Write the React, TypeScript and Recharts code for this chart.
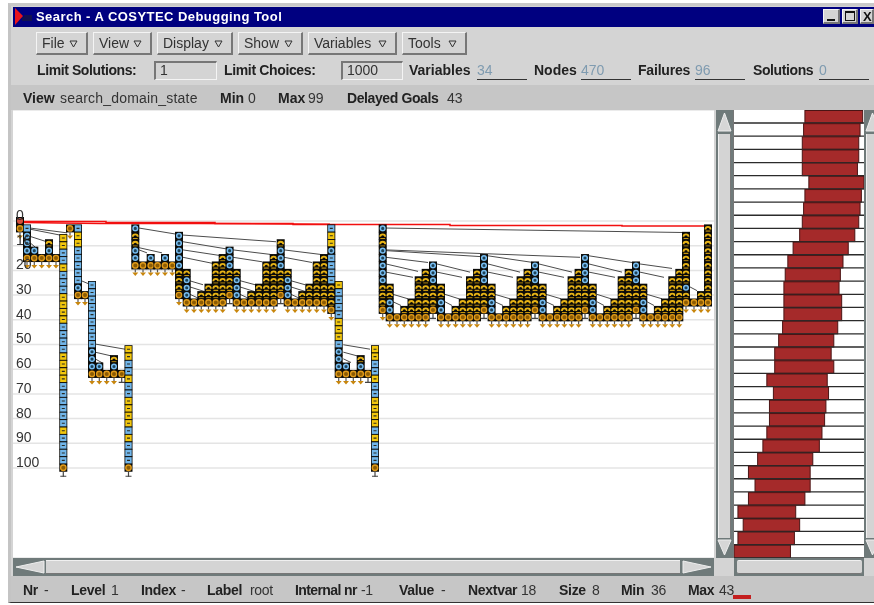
import React from "react";
import { ScatterChart, Scatter, XAxis, YAxis, CartesianGrid, BarChart, Bar } from "recharts";

// ---------- data ----------
const levelTicks = [0, 10, 20, 30, 40, 50, 60, 70, 80, 90, 100];
const LEVELS_PER_DEPTH = 3;

const menuItems: [string, number, number][] = [
  ["File", 36, 52], ["View", 93, 59], ["Display", 157, 76], ["Show", 238, 65], ["Variables", 308, 89], ["Tools", 402, 65],
];
const countersRow: [string, number, string, number, number][] = [
  ["Variables", 409, "34", 477, 0], ["Nodes", 534, "470", 581, 0], ["Failures", 638, "96", 695, -0.2], ["Solutions", 753, "0", 819, -0.4],
];
const viewRow: [string, number, string, number, number][] = [
  ["View", 23, "search_domain_state", 60, 0.2], ["Min", 220, "0", 248, 0], ["Max", 278, "99", 308, 0], ["Delayed Goals", 347, "43", 447, 0],
];
const statusRow: [string, number, string, number][] = [
  ["Nr", 23, "-", 44], ["Level", 71, "1", 111], ["Index", 141, "-", 181], ["Label", 207, "root", 250],
  ["Internal nr", 295, "-1", 361], ["Value", 399, "-", 441], ["Nextvar", 468, "18", 521], ["Size", 559, "8", 592],
  ["Min", 621, "36", 651], ["Max", 688, "43", 719],
];

// variable domain histogram: lowest and highest value of each of the 34 variables
const domainMin = [54, 53, 52, 52, 52, 57, 54, 53, 52, 50, 45, 41, 39, 38, 38, 38, 37, 34, 31, 31, 25, 30, 27, 27, 25, 22, 18, 11, 16, 11, 3, 7, 3, 0];
const domainMax = [98, 96, 95, 95, 94, 99, 97, 96, 95, 92, 87, 83, 81, 80, 82, 82, 79, 76, 74, 76, 71, 72, 70, 69, 67, 65, 60, 58, 58, 54, 47, 50, 46, 43];

// search tree: [x position, depth of first node, node kinds, tail]
type Col = [number, number, string, string];
const tree1: Col[] = [
  [20, 0, "ro", "v"], [27, 1, "bccco", "v"], [34.3, 4, "co", "v"], [41.7, 5, "o", "v"], [49, 3, "aco", "v"], [56, 5, "o", "v"],
  [63.3, 2.3, "yybbybbbyyyybbbbyyyybbbbbbybbbbo", "t"],
  [70, 1, "o", "v"], [78, 1, "byybbbbbco", "v"], [85, 10, "o", "v"],
  [92, 8.64, "bbbbbbbbbccco", "v"], [99.3, 19.64, "co", "v"], [106.7, 20.64, "o", "v"], [114, 18.64, "aco", "v"], [121.7, 20.64, "o", "t"],
  [128.5, 17.3, "yybbybbyyyybybbbo", "t"],
];
const tree2: Col[] = [
  [135.3, 1, "caacco", "v"], [143, 6, "o", "v"], [150.7, 5, "co", "v"], [157.5, 6, "o", "v"], [165, 5, "co", "v"], [172.3, 6, "o", "v"],
  [179, 2, "cccccaaao", "v"],
  [186.7, 7, "accco", "v"], [194, 11, "o", "v"], [201.3, 10, "ao", "v"], [208.5, 9, "aao", "v"], [215.8, 6, "aaaaao", "v"], [222.7, 5, "aaaaaao", "v"], [229.6, 4, "cccaaao", "t"],
  [236.7, 7, "accco", "v"], [244, 11, "o", "v"], [251.3, 10, "ao", "v"], [259, 9, "aao", "v"], [266.3, 6, "aaaaao", "v"], [273.7, 5, "aaaaaao", "v"], [280.7, 3, "acccaaao", "t"],
  [287.7, 7, "accco", "v"], [295, 11, "o", "v"], [302.3, 10, "ao", "v"], [309.3, 9, "aao", "v"], [316.7, 6, "aaaaao", "v"], [324, 5, "aaaaaao", "v"],
  [331.3, 1, "byycbbbbaaao", "v"],
  [338.7, 8.64, "ybbbbyyybccco", "v"], [346, 19.64, "co", "v"], [353.3, 20.64, "o", "v"], [360.7, 18.64, "aco", "v"], [368, 20.64, "o", "t"],
  [375, 17.3, "yybbybbyyyybybbbo", "t"],
];
const tree3: Col[] = [
  [382.7, 1, "caacccccaaao", "v"],
  [389.7, 9, "aacco", "v"], [397, 13, "o", "v"], [404.3, 12, "ao", "v"], [411.5, 11, "aao", "v"], [418.7, 8, "aaaaao", "v"], [425.7, 7, "aaaaaao", "v"], [433, 6, "cccaaao", "t"],
  [441, 9, "aacco", "v"], [448.3, 13, "o", "v"], [455.6, 12, "ao", "v"], [462.8, 11, "aao", "v"], [470, 8, "aaaaao", "v"], [477, 7, "aaaaaao", "v"], [484, 5, "ccccaaao", "t"],
  [491.6, 9, "aacco", "v"], [498.9, 13, "o", "v"], [506.2, 12, "ao", "v"], [513.4, 11, "aao", "v"], [520.6, 8, "aaaaao", "v"], [527.6, 7, "aaaaaao", "v"], [535, 6, "cccaaao", "t"],
  [542.6, 9, "aacco", "v"], [549.9, 13, "o", "v"], [557.2, 12, "ao", "v"], [564.4, 11, "aao", "v"], [571.6, 8, "aaaaao", "v"], [578.6, 7, "aaaaaao", "v"], [585, 5, "ccccaaao", "t"],
  [592.7, 9, "aacco", "v"], [600, 13, "o", "v"], [607.3, 12, "ao", "v"], [614.5, 11, "aao", "v"], [621.7, 8, "aaaaao", "v"], [628.7, 7, "aaaaaao", "v"], [636, 6, "cccaaao", "t"],
  [643.3, 9, "aacco", "v"], [650.6, 13, "o", "v"], [657.9, 12, "ao", "v"], [665.1, 11, "aao", "v"], [672.3, 8, "aaaaao", "v"], [679.3, 7, "aaaaaao", "v"],
  [686, 2, "aaaaaaacao", "v"], [694, 11, "o", "v"], [701, 10, "ao", "v"], [708, 1, "aaaaaaaaaao", "v"],
];

// tree edges: [x1, depth1, x2, depth2]
const treeEdges: [number, number, number, number][] = [
  [30, 0.95, 67, 1.6], [30, 1.1, 60, 1.9], [30.6, 2.1, 46.7, 2.8], [30.6, 3, 35, 3.5], [82, 8.1, 89, 8.5],
  [95, 16.6, 125, 17.3], [95, 17.7, 111, 18.2], [95, 18.6, 103, 19.2],
  [139, 0.95, 175, 1.75], [139, 3.6, 162, 4.3], [139, 3.9, 147, 4.3],
  [183, 1.9, 276, 2.8], [183, 2.8, 228, 3.8], [183, 3.9, 222, 4.7], [183, 4.9, 212, 5.7], [183, 7.8, 203, 8.6], [190, 8.9, 204, 9.5], [190, 9.9, 198, 10.4],
  [233, 3.9, 270, 4.5], [233, 4.9, 262, 5.5], [233, 7.8, 255, 8.6], [240, 8.9, 254, 9.5], [240, 9.9, 248, 10.4],
  [284, 3.9, 320, 4.5], [284, 4.9, 312, 5.6], [284, 7.8, 305, 8.6], [291, 8.9, 305, 9.5], [291, 9.9, 299, 10.4],
  [343.3, 16.7, 370, 17.3], [343.3, 17.7, 357, 18.2], [343.3, 18.6, 351, 19.1],
  [386, 0.95, 682, 1.55], [386, 3.9, 580, 4.9], [386, 4, 480, 4.8], [386, 4.9, 428, 5.6], [386, 5.8, 418, 6.8], [386, 6.9, 413, 7.6],
  [437, 5.8, 470, 6.9], [437, 6.9, 462, 7.6], [488, 4.7, 533, 5.6], [488, 5.8, 520, 6.9], [488, 6.9, 513, 7.6],
  [539, 5.8, 572, 6.9], [539, 6.9, 564, 7.6], [589, 4.7, 632, 5.6], [589, 5.8, 622, 6.9], [589, 6.9, 615, 7.6],
  [640, 5.8, 672, 6.4], [640, 6.9, 664, 7.6], [690, 8.9, 697, 9.4],
  [393, 9.9, 408, 10.5], [393, 10.9, 401, 11.4], [445, 9.9, 459, 10.5], [445, 10.9, 452, 11.4], [495, 9.9, 510, 10.5], [495, 10.9, 503, 11.4],
  [546, 9.9, 561, 10.5], [546, 10.9, 554, 11.4], [597, 9.9, 611, 10.5], [597, 10.9, 604, 11.4], [647, 9.9, 662, 10.5], [647, 10.9, 654, 11.4],
];

// first-solution cost trail: [x, level] corners of two red traces
const redTraceUpper: [number, number][] = [[24, 0.2], [106, 0.2], [106, 0.6], [215, 0.6], [215, 1], [293, 1], [293, 1.4], [450, 1.4], [450, 1.8], [622, 1.8], [622, 2], [712, 2]];
const redTraceLower: [number, number][] = [[24, 0.6], [60, 0.8], [100, 1], [200, 1], [330, 1.3]];

// ---------- derived tables ----------
const allColumns = [...tree1, ...tree2, ...tree3];
const nodes = allColumns.flatMap(([x, d0, kinds]) =>
  kinds.split("").map((kind, i) => ({ x, y: (d0 + i) * LEVELS_PER_DEPTH, kind }))
);
const tails = allColumns.map(([x, d0, kinds, tail]) => ({ x, y: (d0 + kinds.length - 1) * LEVELS_PER_DEPTH, tail }));
const edgeSeries = treeEdges.map(([x1, d1, x2, d2]) => [
  { x: x1, y: d1 * LEVELS_PER_DEPTH },
  { x: x2, y: d2 * LEVELS_PER_DEPTH },
]);
const toPoints = (t: [number, number][]) => t.map(([x, y]) => ({ x, y }));
const domainRows = domainMin.map((lo, i) => ({ row: i + 1, range: [lo, domainMax[i]] }));

// ---------- marks ----------
const NodeCell = (p: any) => {
  const { cx, cy, payload } = p;
  const k = payload.kind;
  const s = 4;
  let inner: React.ReactNode = null;
  if (k === "a")
    inner = (
      <g fill="none" stroke="#e8b416" strokeWidth={1.8}>
        <path d={`M${cx - 2.5},${cy + 1} A2.5,2.5 0 0 1 ${cx + 2.5},${cy + 1}`} />
        <path d={`M${cx - 2.4},${cy + 2.7} H${cx + 2.4}`} strokeWidth={1.1} stroke="#c8960e" />
      </g>
    );
  else if (k === "c") inner = <circle cx={cx} cy={cy} r={2.3} fill="#1e4256" stroke="#76bcf0" strokeWidth={1.5} />;
  else if (k === "o") inner = <circle cx={cx} cy={cy} r={2.7} fill="#8c5c04" stroke="#e09a18" strokeWidth={1.4} />;
  else if (k === "r") inner = <circle cx={cx} cy={cy} r={3} fill="#d4503c" />;
  else if (k === "b" || k === "y")
    inner = (
      <g>
        <rect x={cx - 3.2} y={cy - 3.2} width={6.4} height={6.4} fill={k === "b" ? "#72b6ea" : "#f2c70e"} />
        <path d={`M${cx - 1.5},${cy} H${cx + 1.5}`} stroke="#2a2a20" strokeWidth={1.1} />
      </g>
    );
  return (
    <g>
      <rect x={cx - s} y={cy - s} width={2 * s} height={2 * s} fill="#0b0b08" />
      {inner}
    </g>
  );
};

const TailMark = (p: any) => {
  const { cx, cy, payload } = p;
  if (payload.tail === "t")
    return (
      <g stroke="#444" strokeWidth={1.2}>
        <path d={`M${cx},${cy + 4} V${cy + 9}`} />
        <path d={`M${cx - 3},${cy + 8.5} H${cx + 3}`} />
      </g>
    );
  return (
    <g>
      <path d={`M${cx},${cy + 4} V${cy + 7}`} stroke="#555" strokeWidth={1.2} />
      <path d={`M${cx - 3},${cy + 7} H${cx + 3} L${cx},${cy + 10.5} Z`} fill="#c8860c" />
    </g>
  );
};

const NoMark = () => <g />;

const LevelTick = (p: any) => (
  <text x={3} y={p.y - 1} fontSize={14} fill="#333" fontFamily="Liberation Sans">
    {p.payload.value}
  </text>
);

const DomainBar = (p: any) => {
  const { x, y, width, height, background } = p;
  const bx = background?.x ?? 0;
  const bw = background?.width ?? 130;
  return (
    <g>
      <rect x={x} y={y + 0.5} width={width} height={height - 0.5} fill="#a52a2a" stroke="#4a1414" strokeWidth={1} />
      <line x1={bx} x2={bx + bw} y1={y + height} y2={y + height} stroke="#2b2b2b" strokeWidth={1.3} />
    </g>
  );
};

// ---------- chrome ----------
const FONT = "Liberation Sans, Arial, sans-serif";
const Txt = ({ x, y, bold, color, size, children, ls }: any) => (
  <div
    style={{
      position: "absolute", left: x, top: y - 9, height: 18, lineHeight: "18px", whiteSpace: "nowrap",
      fontFamily: FONT, fontSize: size ?? 14, fontWeight: bold ? 700 : 400, color: color ?? "#222", letterSpacing: ls ?? 0,
    }}
  >
    {children}
  </div>
);
const Box = ({ x, y, w, h, bg, style }: any) => (
  <div style={{ position: "absolute", left: x, top: y, width: w, height: h, background: bg, boxSizing: "border-box", ...style }} />
);
const raised = { borderTop: "1px solid #f4f4f4", borderLeft: "1px solid #f4f4f4", borderRight: "2px solid #777", borderBottom: "2px solid #777" };
const sunken = { borderTop: "2px solid #777", borderLeft: "2px solid #777", borderRight: "1px solid #f4f4f4", borderBottom: "1px solid #f4f4f4" };

const Arrow = ({ x, y, w, h, dir }: any) => {
  const pts =
    dir === "up" ? `${w / 2},2 ${w - 1},${h - 2} 1,${h - 2}`
    : dir === "down" ? `1,2 ${w - 1},2 ${w / 2},${h - 2}`
    : dir === "left" ? `2,${h / 2} ${w - 1},1 ${w - 1},${h - 1}`
    : `1,1 ${w - 2},${h / 2} 1,${h - 1}`;
  return (
    <svg style={{ position: "absolute", left: x, top: y }} width={w} height={h}>
      <polygon points={pts} fill="#d6d6d6" stroke="#eee" strokeWidth={1} />
    </svg>
  );
};

const PLOT_W = 701;
const PLOT_H = 448;

export default function App() {
  return (
    <div style={{ position: "absolute", left: 0, top: 0, width: 874, height: 605, background: "#fff", overflow: "hidden", filter: "blur(0.3px)" }}>
      {/* window */}
      <Box x={8} y={3} w={866} h={600} bg="#d4d4d4" style={{ borderTop: "3px solid #c9c9c9", borderLeft: "3px solid #c4c4c4", borderBottom: "1px solid #333" }} />
      <Box x={13} y={7} w={861} h={20} bg="#000080" />
      <svg style={{ position: "absolute", left: 14, top: 7 }} width={20} height={20}>
        <polygon points="1,1 9,9 1,18" fill="#e8141c" />
        <path d="M9,14 V10 M11,14 V8 M13,14 V8 M15,14 V8 M17,14 V8" stroke="#222" strokeWidth={1} />
      </svg>
      <Txt x={36} y={17} bold color="#fff" size={13} ls={0.45}>Search - A COSYTEC Debugging Tool</Txt>
      <Box x={823} y={9} w={17} h={15} bg="#d4d4d4" style={raised} />
      <Box x={842} y={9} w={16} h={15} bg="#d4d4d4" style={raised} />
      <Box x={860} y={9} w={14} h={15} bg="#d4d4d4" style={raised} />
      <Box x={827} y={19} w={8} h={2} bg="#111" />
      <Box x={845} y={11} w={10} h={10} style={{ border: "1px solid #111", borderTop: "2px solid #111" }} />
      <Txt x={863} y={17} bold color="#111" size={13}>X</Txt>

      {/* menus */}
      {menuItems.map(([label, x, w]) => (
        <React.Fragment key={label}>
          <Box x={x} y={32} w={w} h={23} bg="#d4d4d4" style={raised} />
          <Txt x={x + 6} y={43} color="#333">{label}</Txt>
          <svg style={{ position: "absolute", left: x + w - 19, top: 40 }} width={10} height={8}>
            <polygon points="1,1 8,1 4.5,7" fill="none" stroke="#333" strokeWidth={1} />
          </svg>
        </React.Fragment>
      ))}

      {/* limits and counters */}
      <Txt x={37} y={70} bold ls={-0.4}>Limit Solutions:</Txt>
      <Box x={154} y={61} w={63} h={19} bg="#d4d4d4" style={sunken} />
      <Txt x={160} y={70} color="#333">1</Txt>
      <Txt x={224} y={70} bold ls={-0.35}>Limit Choices:</Txt>
      <Box x={341} y={61} w={62} h={19} bg="#d4d4d4" style={sunken} />
      <Txt x={347} y={70} color="#333">1000</Txt>
      {countersRow.map(([label, x, value, vx, ls]) => (
        <React.Fragment key={label}>
          <Txt x={x} y={70} bold ls={ls}>{label}</Txt>
          <Txt x={vx} y={70} color="#7f9bb0">{value}</Txt>
          <Box x={vx} y={79} w={50} h={1} bg="#333" />
        </React.Fragment>
      ))}

      {/* view band */}
      <Box x={11} y={85} w={863} h={25} bg="#c6c6c6" />
      {viewRow.map(([label, x, value, vx, ls]) => (
        <React.Fragment key={label}>
          <Txt x={x} y={98} bold ls={label === "Delayed Goals" ? -0.4 : 0}>{label}</Txt>
          <Txt x={vx} y={98} color="#333" ls={ls}>{value}</Txt>
        </React.Fragment>
      ))}

      {/* search tree */}
      <div style={{ position: "absolute", left: 13, top: 110 }}>
        <ScatterChart width={PLOT_W} height={PLOT_H} margin={{ top: 0, right: 0, bottom: 0, left: 0 }} style={{ background: "#fff" }}>
          <CartesianGrid vertical={false} stroke="#e4e4e4" strokeWidth={1.5} />
          <XAxis type="number" dataKey="x" domain={[13, 714]} hide />
          <YAxis
            type="number" dataKey="y" reversed domain={[-44.94, 136.44]} ticks={levelTicks} width={30} mirror
            axisLine={false} tickLine={false} tick={<LevelTick />} interval={0} allowDataOverflow
          />
          {edgeSeries.map((pts, i) => (
            <Scatter key={i} data={pts} line={{ stroke: "#4c4c4c", strokeWidth: 1 }} shape={<NoMark />} isAnimationActive={false} />
          ))}
          <Scatter data={toPoints(redTraceLower)} line={{ stroke: "#f20f0f", strokeWidth: 1.5 }} shape={<NoMark />} isAnimationActive={false} />
          <Scatter data={toPoints(redTraceUpper)} line={{ stroke: "#f20f0f", strokeWidth: 1.5 }} shape={<NoMark />} isAnimationActive={false} />
          <Scatter data={tails} shape={<TailMark />} isAnimationActive={false} />
          <Scatter data={nodes} shape={<NodeCell />} isAnimationActive={false} />
        </ScatterChart>
      </div>

      {/* vertical scrollbar */}
      <Box x={716} y={110} w={17} h={448} bg="#6f7a7a" />
      <Arrow x={717} y={111} w={15} h={22} dir="up" />
      <Box x={718} y={134} w={13} h={404} bg="#d4d4d4" style={{ borderLeft: "1px solid #f0f0f0", borderRight: "1px solid #777" }} />
      <Arrow x={717} y={538} w={15} h={19} dir="down" />

      {/* domain histogram */}
      <Box x={733} y={110} w={1} h={448} bg="#777" />
      <div style={{ position: "absolute", left: 734, top: 110 }}>
        <BarChart width={130} height={PLOT_H} data={domainRows} layout="vertical" barCategoryGap={0} margin={{ top: 0, right: 0, bottom: 0, left: 0 }} style={{ background: "#fff" }}>
          <XAxis type="number" domain={[0, 99]} hide />
          <YAxis type="category" dataKey="row" hide />
          <Bar dataKey="range" shape={<DomainBar />} isAnimationActive={false} />
        </BarChart>
      </div>

      {/* right scrollbar */}
      <Box x={864} y={110} w={10} h={448} bg="#6f7a7a" />
      <Box x={866} y={134} w={8} h={404} bg="#d4d4d4" style={{ borderLeft: "1px solid #f0f0f0" }} />
      <Arrow x={865} y={111} w={15} h={22} dir="up" />
      <Arrow x={865} y={538} w={15} h={19} dir="down" />

      {/* horizontal scrollbars */}
      <Box x={13} y={558} w={701} h={18} bg="#6f7a7a" />
      <Arrow x={14} y={560} w={31} h={14} dir="left" />
      <Box x={46} y={560} w={634} h={14} bg="#d4d4d4" style={{ borderTop: "1px solid #f0f0f0", borderBottom: "1px solid #777" }} />
      <Arrow x={682} y={560} w={31} h={14} dir="right" />
      <Box x={734} y={558} w={130} h={18} bg="#6f7a7a" />
      <Box x={737} y={560} w={125} h={14} bg="#d4d4d4" style={{ borderTop: "1px solid #f0f0f0", borderBottom: "1px solid #777", borderRadius: 2 }} />

      {/* status */}
      <Box x={11} y={576} w={863} h={26} bg="#c6c6c6" />
      {statusRow.map(([label, x, value, vx]) => (
        <React.Fragment key={label}>
          <Txt x={x} y={590} bold ls={label === "Internal nr" ? -0.6 : -0.3}>{label}</Txt>
          <Txt x={vx} y={590} color="#333" ls={-0.3}>{value}</Txt>
        </React.Fragment>
      ))}
      <Box x={733} y={595} w={18} h={4} bg="#c41f1f" />
    </div>
  );
}
